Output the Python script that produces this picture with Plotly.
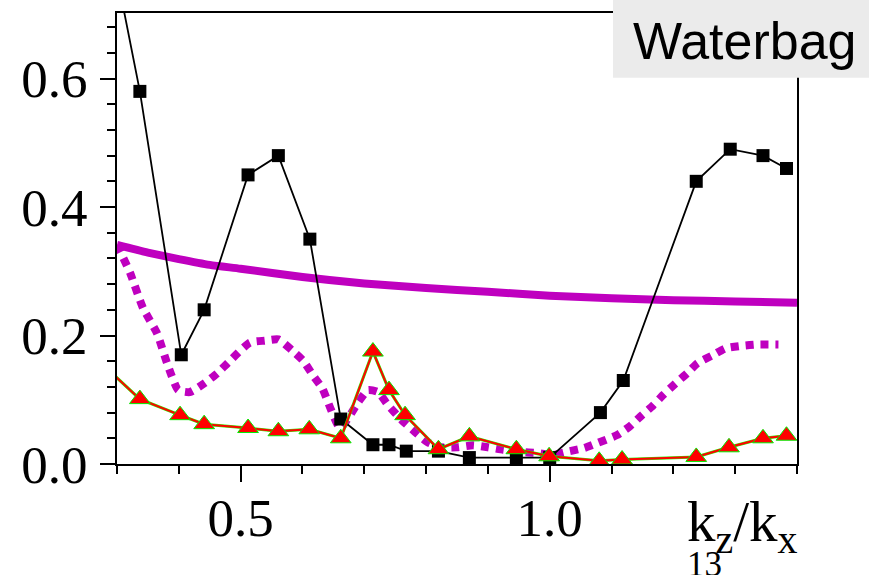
import plotly.graph_objects as go

# ---- data ----
black_x = [0.300, 0.337, 0.404, 0.441, 0.512, 0.561, 0.612, 0.662, 0.714, 0.740, 0.768,
           0.820, 0.870, 0.946, 1.000, 1.082, 1.119, 1.237, 1.292, 1.345, 1.383]
black_y = [0.760, 0.580, 0.170, 0.240, 0.450, 0.480, 0.350, 0.070, 0.030, 0.030, 0.020,
           0.020, 0.010, 0.010, 0.010, 0.080, 0.130, 0.440, 0.490, 0.480, 0.460]

tri_x = [0.280, 0.337, 0.402, 0.441, 0.512, 0.561, 0.611, 0.662, 0.714, 0.740, 0.766,
         0.820, 0.870, 0.946, 0.999, 1.080, 1.117, 1.237, 1.290, 1.345, 1.383]
tri_y = [0.152, 0.101, 0.076, 0.062, 0.056, 0.051, 0.054, 0.040, 0.175, 0.115, 0.076,
         0.023, 0.043, 0.023, 0.012, 0.005, 0.007, 0.011, 0.026, 0.040, 0.044]

solid_x = [0.30, 0.35, 0.40, 0.45, 0.50, 0.60, 0.70, 0.80, 0.90, 1.00, 1.10, 1.20, 1.30, 1.40]
solid_y = [0.341, 0.329, 0.319, 0.310, 0.304, 0.291, 0.281, 0.274, 0.268, 0.262, 0.258,
           0.255, 0.253, 0.251]

dot_x = [0.300, 0.310, 0.321, 0.342, 0.365, 0.381, 0.399, 0.418, 0.442, 0.462, 0.480,
         0.515, 0.539, 0.561, 0.583, 0.601, 0.617, 0.632, 0.661, 0.690, 0.706, 0.722,
         0.739, 0.761, 0.782, 0.802, 0.823, 0.850, 0.876, 0.900, 0.925, 0.952, 0.980,
         1.005, 1.028, 1.056, 1.078, 1.109, 1.130, 1.149, 1.167, 1.184, 1.203, 1.222,
         1.239, 1.263, 1.284, 1.311, 1.335, 1.370]
dot_y = [0.341, 0.321, 0.298, 0.243, 0.203, 0.157, 0.115, 0.112, 0.126, 0.141, 0.158,
         0.189, 0.192, 0.194, 0.177, 0.161, 0.138, 0.118, 0.056, 0.096, 0.115, 0.112,
         0.091, 0.068, 0.050, 0.034, 0.026, 0.026, 0.029, 0.026, 0.022, 0.019, 0.017,
         0.014, 0.019, 0.025, 0.033, 0.045, 0.059, 0.076, 0.091, 0.108, 0.125, 0.141,
         0.157, 0.169, 0.180, 0.184, 0.186, 0.186]

x_tick_vals = [0.5, 1.0]
x_tick_text = ["0.5", "1.0"]
y_tick_vals = [0.0, 0.2, 0.4, 0.6]
y_tick_text = ["0.0", "0.2", "0.4", "0.6"]

W, H = 869, 575
L, R, T, B = 117, 797, 11, 464

def px(xp):
    return (xp - L) / (R - L)

def py(yp):
    return (B - yp) / (B - T)

MAG = "#BF00BF"
fig = go.Figure()
fig.add_trace(go.Scatter(x=solid_x, y=solid_y, mode="lines",
                         line=dict(color=MAG, width=8, shape="spline", smoothing=0.6)))
fig.add_trace(go.Scatter(x=dot_x, y=dot_y, mode="lines",
                         line=dict(color=MAG, width=8, dash="8px,7px", shape="spline", smoothing=0.5)))
fig.add_trace(go.Scatter(x=black_x, y=black_y, mode="lines+markers",
                         line=dict(color="black", width=1.8),
                         marker=dict(symbol="square", size=13, color="black")))
fig.add_trace(go.Scatter(x=tri_x, y=tri_y, mode="lines",
                         line=dict(color="#33EE00", width=3)))
fig.add_trace(go.Scatter(x=tri_x, y=tri_y, mode="lines+markers",
                         line=dict(color="#FF0000", width=2),
                         marker=dict(symbol="triangle-up", size=18, color="#FF0000",
                                     line=dict(color="#00EE00", width=1))))

tickfont = dict(family="Liberation Serif", size=53, color="black")
fig.update_layout(
    width=W, height=H,
    margin=dict(l=L, r=W - R, t=T, b=H - B),
    paper_bgcolor="white", plot_bgcolor="white",
    showlegend=False,
    xaxis=dict(range=[0.3, 1.4], tickvals=x_tick_vals, ticktext=x_tick_text,
               ticks="outside", ticklen=16, tickwidth=2, tickcolor="black",
               minor=dict(dtick=0.1, tick0=0.3, ticks="outside", ticklen=8, tickwidth=2, tickcolor="black"),
               showline=True, linecolor="black", linewidth=2, mirror=True,
               showgrid=False, zeroline=False, tickfont=tickfont, ticklabelstandoff=-10),
    yaxis=dict(range=[0, 0.702], tickvals=y_tick_vals, ticktext=y_tick_text,
               ticks="outside", ticklen=15, tickwidth=2, tickcolor="black",
               minor=dict(dtick=0.04, tick0=0, ticks="outside", ticklen=8, tickwidth=2, tickcolor="black"),
               showline=True, linecolor="black", linewidth=2, mirror=True,
               showgrid=False, zeroline=False, tickfont=tickfont, ticklabelstandoff=2),
)

# Waterbag label box
fig.add_shape(type="rect", xref="paper", yref="paper",
              x0=px(613), x1=px(869 + 5), y0=py(76), y1=py(-5),
              fillcolor="#EBEBEB", line=dict(width=0), layer="above")
fig.add_annotation(x=px(859), y=py(39), xref="paper", yref="paper",
                   text="Waterbag", showarrow=False, xanchor="right", yanchor="middle",
                   font=dict(family="Liberation Sans", size=52, color="black"))

# axis title
fig.add_annotation(x=px(800), y=py(526), xref="paper", yref="paper",
                   text="k<sub>z</sub>/k<sub>x</sub>", showarrow=False,
                   xanchor="right", yanchor="middle",
                   font=dict(family="Liberation Serif", size=57, color="black"))
fig.add_annotation(x=px(685), y=py(543), xref="paper", yref="paper",
                   text="13", showarrow=False, xanchor="left", yanchor="top",
                   font=dict(family="Liberation Serif", size=35, color="black"))

fig.write_html("out.html")
